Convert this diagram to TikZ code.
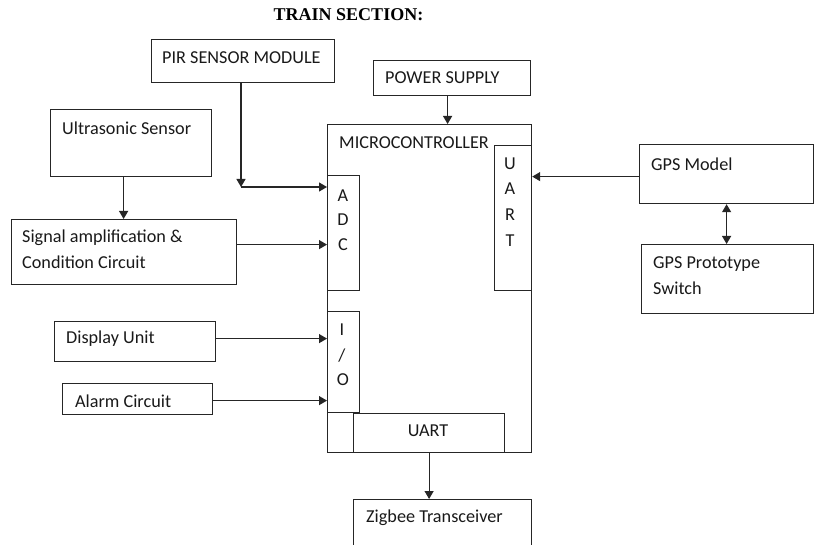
\documentclass[tikz,border=0pt]{standalone}
\usepackage{fontspec}
\setmainfont{Carlito}
\newfontfamily\titlefont{Liberation Serif}
\usetikzlibrary{arrows.meta}
\begin{document}
\begin{tikzpicture}[x=1pt,y=-1pt,
  box/.style={draw=black!85,line width=1.2pt,rectangle,inner sep=0pt,anchor=north west},
  lbl/.style={anchor=west,inner sep=0pt,text=black!90,font=\fontsize{18.2}{21}\selectfont},
  clbl/.style={anchor=center,inner sep=0pt,text=black!90,font=\fontsize{18.2}{21}\selectfont},
  arr/.style={draw=black!85,line width=1.2pt,-{Triangle[length=8pt,width=9pt]}},
  darr/.style={draw=black!85,line width=1.2pt,{Triangle[length=8pt,width=9pt]}-{Triangle[length=8pt,width=9pt]}}]
\useasboundingbox (0,0) rectangle (814,545);
\clip (0,0) rectangle (814,545);

\node[inner sep=0pt,font=\titlefont\bfseries\fontsize{18}{21}\selectfont] (title) at (348.5,14.5) {TRAIN SECTION:};

% boxes
\node[box,minimum width=183pt,minimum height=43pt] (pir) at (151,39) {};
\node[box,minimum width=157pt,minimum height=35pt] (power) at (373,60) {};
\node[box,minimum width=161pt,minimum height=67pt] (ultra) at (50,109) {};
\node[box,minimum width=204pt,minimum height=328pt] (mcu) at (327,124) {};
\node[box,minimum width=32pt,minimum height=115pt] (adc) at (327,175) {};
\node[box,minimum width=37pt,minimum height=145pt] (uartr) at (494,145) {};
\node[box,minimum width=32pt,minimum height=101pt] (io) at (327,311) {};
\node[box,minimum width=151pt,minimum height=39pt] (uartb) at (353,413) {};
\node[box,minimum width=178pt,minimum height=71pt] (zig) at (353,499) {};
\node[box,minimum width=225pt,minimum height=65pt] (signal) at (11,219) {};
\node[box,minimum width=161pt,minimum height=40pt] (display) at (54,321) {};
\node[box,minimum width=150pt,minimum height=31pt] (alarm) at (62,383) {};
\node[box,minimum width=174pt,minimum height=59pt] (gpsm) at (639,144) {};
\node[box,minimum width=172pt,minimum height=69pt] (gpsp) at (641,244) {};

% labels
\node[lbl] (tpir) at (162,57.5) {PIR SENSOR MODULE};
\node[lbl] (tpower) at (385,77.5) {POWER SUPPLY};
\node[lbl] (tultra) at (62,128.5) {Ultrasonic Sensor};
\node[lbl] (tmcu) at (339,142.5) {MICROCONTROLLER};
\node[lbl] (tsig1) at (22,237.5) {Signal amplification \&};
\node[lbl] (tsig2) at (22,262.5) {Condition Circuit};
\node[lbl] (tdisp) at (66,338.5) {Display Unit};
\node[lbl] (talarm) at (75,401.5) {Alarm Circuit};
\node[lbl] (tgpsm) at (651,164.5) {GPS Model};
\node[lbl] (tgpsp1) at (653,264.5) {GPS Prototype};
\node[lbl] (tgpsp2) at (653,288.5) {Switch};
\node[lbl] (tzig) at (366,517.5) {Zigbee Transceiver};
\node[clbl] (tuartb) at (428,430.5) {UART};
\node[clbl] (a1) at (343,195.5) {A};
\node[clbl] (a2) at (343,219.5) {D};
\node[clbl] (a3) at (343,244.5) {C};
\node[clbl] (u1) at (510,163.5) {U};
\node[clbl] (u2) at (510,188.5) {A};
\node[clbl] (u3) at (510,214.5) {R};
\node[clbl] (u4) at (510,240.5) {T};
\node[clbl] (i1) at (342,329.5) {I};
\node[clbl] (i2) at (342,355.5) {/};
\node[clbl] (i3) at (343,379.5) {O};

% connector anchor points
\coordinate (pirc) at (241,187);
\coordinate (ultS) at ([xshift=-7.5pt]ultra.south);
\coordinate (sigE) at ([yshift=7.5pt]signal.east);
\coordinate (dispE) at ([yshift=3pt]display.east);
\coordinate (alE) at ([yshift=-1.5pt]alarm.east);
\coordinate (powS) at ([xshift=-4.5pt]power.south);
\coordinate (gpsW) at ([yshift=-2.5pt]gpsm.west);

% connectors
\draw[arr] (pir.south -| pirc) -- (pirc);
\draw[arr] (pirc) -- (adc.west |- pirc);
\draw[arr] (ultS) -- (ultS |- signal.north);
\draw[arr] (sigE) -- (adc.west |- sigE);
\draw[arr] (dispE) -- (io.west |- dispE);
\draw[arr] (alE) -- (io.west |- alE);
\draw[arr] (powS) -- (powS |- mcu.north);
\draw[arr] (gpsW) -- (uartr.east |- gpsW);
\draw[darr] (gpsm.south) -- (gpsm.south |- gpsp.north);
\draw[arr] (uartb.south) -- (uartb.south |- zig.north);
\end{tikzpicture}
\end{document}
